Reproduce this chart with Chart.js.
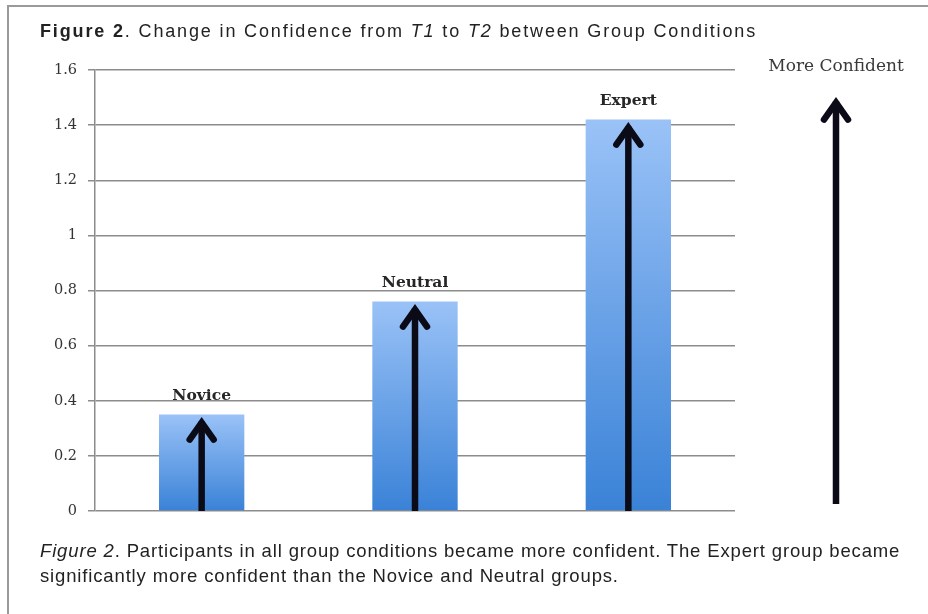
<!DOCTYPE html>
<html>
<head>
<meta charset="utf-8">
<script src="https://cdn.jsdelivr.net/npm/chart.js@4"></script>
<style>
  html, body { margin: 0; padding: 0; background: #fff; }
  body { width: 928px; height: 614px; position: relative; overflow: hidden; }
  #frame { position: absolute; left: 7px; top: 5px; width: 940px; height: 640px;
           border-left: 2px solid #9a9a9a; border-top: 2px solid #9a9a9a; }
  #title { position: absolute; left: 40px; top: 21px; font: 18px "Liberation Sans", Arial, sans-serif;
           letter-spacing: 1.85px; color: #222; white-space: nowrap; }
  #caption { position: absolute; left: 40px; top: 538px; font: 18.5px "Liberation Sans", Arial, sans-serif;
             letter-spacing: 0.85px; color: #222; line-height: 25px; white-space: nowrap; }
  #wrap { position: absolute; left: 0; top: 0; width: 928px; height: 614px; }
</style>
</head>
<body>
<div id="frame"></div>
<div id="wrap"><canvas id="chart"></canvas></div>
<div id="title"><b>Figure 2</b>. Change in Confidence from <i>T1</i> to <i>T2</i> between Group Conditions</div>
<div id="caption"><i>Figure 2</i>. Participants in all group conditions became more confident. The Expert group became<br>significantly more confident than the Novice and Neutral groups.</div>
<script>
// ── Data ──────────────────────────────────────
const groups     = ['Novice', 'Neutral', 'Expert'];
const confidence = [0.35, 0.76, 1.42];
const yTicks     = [0, 0.2, 0.4, 0.6, 0.8, 1, 1.2, 1.4, 1.6];
const sideLabel  = 'More Confident';

// ── Arrow helper ──────────────────────────────
function drawArrow(ctx, x, yBottom, yTip, width) {
  ctx.save();
  ctx.strokeStyle = '#0b0b18';
  ctx.lineWidth = width;
  ctx.lineCap = 'butt';
  ctx.beginPath();
  ctx.moveTo(x, yBottom);
  ctx.lineTo(x, yTip + 4);
  ctx.stroke();
  ctx.lineJoin = 'miter';
  ctx.lineCap = 'round';
  ctx.beginPath();
  ctx.moveTo(x - 12, yTip + 22);
  ctx.lineTo(x, yTip + 5);
  ctx.lineTo(x + 12, yTip + 22);
  ctx.stroke();
  ctx.restore();
}

// ── Labels + arrows plugin ────────────────────
const decorations = {
  id: 'decorations',
  afterDatasetsDraw(chart) {
    const ctx = chart.ctx;
    const y = chart.scales.y;
    const meta = chart.getDatasetMeta(0);
    meta.data.forEach((bar, i) => {
      drawArrow(ctx, bar.x, y.getPixelForValue(0), bar.y + 3, 6.5);
      ctx.save();
      ctx.font = 'bold 15.5px "DejaVu Serif", serif';
      ctx.fillStyle = '#262626';
      ctx.textAlign = 'center';
      ctx.textBaseline = 'middle';
      ctx.fillText(groups[i], bar.x, bar.y - 19);
      ctx.restore();
    });
    // side arrow
    const sx = chart.chartArea.right + 101;
    drawArrow(ctx, sx, y.getPixelForValue(0.025), y.getPixelForValue(1.5), 6.5);
    ctx.save();
    ctx.font = '17px "DejaVu Serif", serif';
    ctx.fillStyle = '#3a3a3a';
    ctx.textAlign = 'center';
    ctx.textBaseline = 'middle';
    ctx.fillText(sideLabel, sx, y.getPixelForValue(1.6) - 3);
    ctx.restore();
  }
};

// ── Chart ─────────────────────────────────────
new Chart(document.getElementById('chart'), {
  type: 'bar',
  data: {
    labels: groups,
    datasets: [{
      data: confidence,
      backgroundColor: (c) => {
        const ys = c.chart.scales.y;
        if (!ys || !c.chart.chartArea) return '#6aa3ea';
        const top = ys.getPixelForValue(c.raw), base = ys.getPixelForValue(0);
        if (!Number.isFinite(top) || !Number.isFinite(base)) return '#6aa3ea';
        const g = c.chart.ctx.createLinearGradient(0, top, 0, base);
        g.addColorStop(0, '#9ac2f7');
        g.addColorStop(1, '#3a82d7');
        return g;
      },
      borderWidth: 0,
      barPercentage: 0.8,
      categoryPercentage: 0.5
    }]
  },
  options: {
    responsive: true,
    maintainAspectRatio: false,
    animation: false,
    layout: { padding: { top: 70, right: 193, bottom: 103, left: 0 } },
    plugins: { legend: { display: false }, tooltip: { enabled: false } },
    scales: {
      x: { display: false },
      y: {
        min: 0, max: 1.6,
        afterFit: (s) => { s.width = 95; },
        afterBuildTicks: (s) => { s.ticks = yTicks.map(v => ({ value: v })); },
        border: { display: true, color: '#8c8c8c', width: 1.5 },
        grid: { color: '#8c8c8c', lineWidth: 1.5, tickLength: 7, drawTicks: true },
        ticks: {
          padding: 11,
          color: '#333',
          font: { family: '"DejaVu Serif", serif', size: 14.5 },
          callback: (v) => String(v)
        }
      }
    }
  },
  plugins: [decorations]
});
</script>
</body>
</html>
